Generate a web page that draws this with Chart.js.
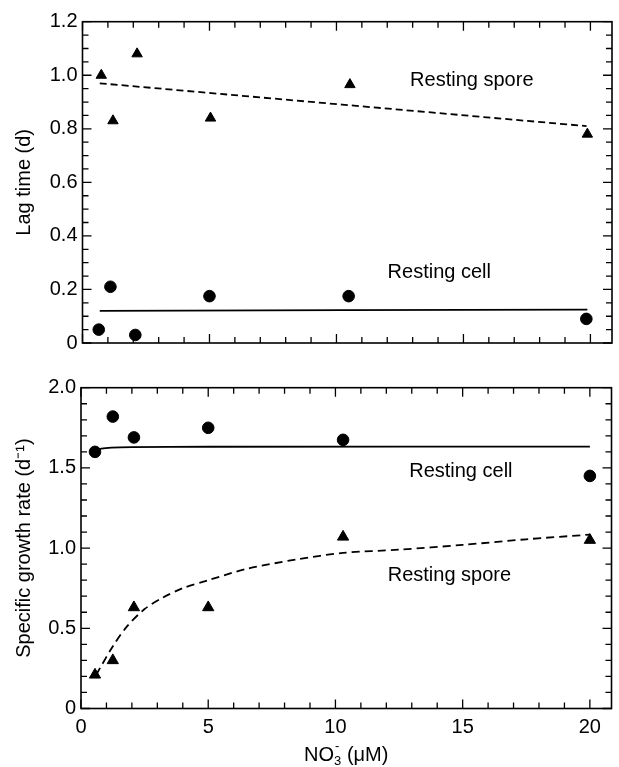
<!DOCTYPE html>
<html>
<head>
<meta charset="utf-8">
<script src="https://cdn.jsdelivr.net/npm/chart.js@4.4.1/dist/chart.umd.min.js"></script>
<style>
    html, body { margin: 0; padding: 0; background: #fff; }
    #wrap { position: relative; width: 619px; height: 767px; }
    canvas { position: absolute; left: 0; }
    #lag { top: 0; }
    #growth { top: 360px; }
</style>
</head>
<body>
<div id="wrap">
    <canvas id="lag" width="619" height="360"></canvas>
    <canvas id="growth" width="619" height="407"></canvas>
</div>
<script>
// tick labels
const xTicks = [0, 5, 10, 15, 20];
const lagTicks = [0, 0.2, 0.4, 0.6, 0.8, 1.0, 1.2];
const growthTicks = [0, 0.5, 1.0, 1.5, 2.0];

// top panel - lag time (d) vs NO3- (uM)
const lagSporeX = [0.74, 1.2, 2.15, 5.04, 10.53, 19.88];
const lagSporeY = [1.0, 0.83, 1.08, 0.84, 0.965, 0.78];
const lagCellX = [0.64, 1.1, 2.08, 5.0, 10.48, 19.84];
const lagCellY = [0.05, 0.21, 0.03, 0.175, 0.175, 0.09];
const lagSporeFitX = [0.68, 19.85];
const lagSporeFitY = [0.97, 0.81];
const lagCellFitX = [0.68, 19.88];
const lagCellFitY = [0.12, 0.125];

// bottom panel - specific growth rate (d-1) vs NO3- (uM)
const growthX = [0.55, 1.25, 2.08, 5.0, 10.3, 20.0];
const growthCellY = [1.60, 1.82, 1.69, 1.75, 1.675, 1.45];
const growthSporeY = [0.21, 0.30, 0.63, 0.63, 1.07, 1.05];
const growthCellFitX = [0.55, 0.8, 1.2, 2.0, 5.0, 20.0];
const growthCellFitY = [1.605, 1.62, 1.627, 1.63, 1.632, 1.633];
const growthSporeFitX = [0.6, 0.74, 1.26, 1.8, 2.5, 3.2, 4.0, 5.0, 6.5, 8.5, 10.3, 12.5, 15.0, 17.5, 20.0];
const growthSporeFitY = [0.21, 0.25, 0.39, 0.51, 0.62, 0.69, 0.75, 0.80, 0.87, 0.93, 0.97, 0.99, 1.02, 1.055, 1.084];

// text inside the panels (data units)
const lagNotes = ['Resting spore', 'Resting cell'];
const lagNoteX = [15.33, 14.05];
const lagNoteY = [0.98, 0.265];
const growthNotes = ['Resting cell', 'Resting spore'];
const growthNoteX = [14.93, 14.48];
const growthNoteY = [1.476, 0.832];

const X_MAX = 20.85;
const FONT = '"Liberation Sans", Arial, Helvetica, sans-serif';

function pts(xs, ys) {
    return xs.map((x, i) => ({x: x, y: ys[i]}));
}

function marks(xs, ys, style, radius) {
    return {
        data: pts(xs, ys),
        showLine: false,
        pointStyle: style,
        pointRadius: radius,
        backgroundColor: '#000',
        borderColor: '#000',
        borderWidth: 1
    };
}

function fit(xs, ys, dash) {
    return {
        data: pts(xs, ys),
        showLine: true,
        pointRadius: 0,
        borderColor: '#000',
        borderWidth: 1.8,
        borderDash: dash,
        tension: 0.3
    };
}

// box round the plot with inward ticks on all four sides
const frame = {
    id: 'frame',
    afterDatasetsDraw(chart) {
        const {ctx, chartArea: a, scales: {x, y}} = chart;
        const minorY = chart.options.plugins.frame.minorY;
        ctx.save();
        ctx.strokeStyle = '#000';
        ctx.lineWidth = 1.6;
        ctx.strokeRect(a.left, a.top, a.right - a.left, a.bottom - a.top);
        ctx.lineWidth = 1.3;
        ctx.beginPath();
        for (let v = 0; v <= x.max + 1e-6; v += 1) {
            const len = v % 5 === 0 ? 9 : 6;
            const px = x.getPixelForValue(v);
            ctx.moveTo(px, a.bottom); ctx.lineTo(px, a.bottom - len);
            ctx.moveTo(px, a.top); ctx.lineTo(px, a.top + len);
        }
        const steps = Math.round(y.max / minorY);
        const per = Math.round(y.ticks[1].value / minorY);
        for (let i = 0; i <= steps; i++) {
            const len = i % per === 0 ? 9 : 6;
            const py = y.getPixelForValue(i * minorY);
            ctx.moveTo(a.left, py); ctx.lineTo(a.left + len, py);
            ctx.moveTo(a.right, py); ctx.lineTo(a.right - len, py);
        }
        ctx.stroke();
        ctx.restore();
    }
};

// labels like "Resting spore" written inside the panel
const notes = {
    id: 'notes',
    afterDatasetsDraw(chart) {
        const o = chart.options.plugins.notes;
        const {ctx, scales: {x, y}} = chart;
        ctx.save();
        ctx.fillStyle = '#000';
        ctx.font = '20px ' + FONT;
        ctx.textAlign = 'center';
        ctx.textBaseline = 'middle';
        for (let i = 0; i < o.text.length; i++) {
            ctx.fillText(o.text[i], x.getPixelForValue(o.x[i]), y.getPixelForValue(o.y[i]));
        }
        ctx.restore();
    }
};

// x title with the stacked sub/superscript of NO3-
const nitrateTitle = {
    id: 'nitrateTitle',
    afterDraw(chart) {
        if (!chart.options.plugins.nitrateTitle.show) return;
        const {ctx, chartArea: a} = chart;
        const base = 401;
        ctx.save();
        ctx.fillStyle = '#000';
        ctx.textBaseline = 'alphabetic';
        ctx.font = '20px ' + FONT;
        const wNO = ctx.measureText('NO').width;
        const wRest = ctx.measureText(' (μM)').width;
        ctx.font = '13px ' + FONT;
        const wSub = ctx.measureText('3').width;
        let x0 = (a.left + a.right) / 2 - (wNO + wSub + wRest) / 2;
        ctx.font = '20px ' + FONT;
        ctx.fillText('NO', x0, base);
        x0 += wNO;
        ctx.font = '13px ' + FONT;
        ctx.fillText('3', x0, base + 4);
        ctx.fillText('-', x0 + 1, base - 11);
        x0 += wSub;
        ctx.font = '20px ' + FONT;
        ctx.fillText(' (μM)', x0, base);
        ctx.restore();
    }
};

function makeChart(canvasId, cfg) {
    return new Chart(document.getElementById(canvasId), {
        type: 'scatter',
        data: {datasets: cfg.datasets},
        options: {
            responsive: false,
            animation: false,
            events: [],
            layout: {padding: {top: cfg.top, right: 2, left: 0, bottom: 0}},
            plugins: {
                legend: {display: false},
                tooltip: {enabled: false},
                frame: {minorY: cfg.minorY},
                notes: cfg.notes,
                nitrateTitle: {show: cfg.xLabels}
            },
            scales: {
                x: {
                    type: 'linear',
                    min: 0,
                    max: X_MAX,
                    afterBuildTicks: s => { s.ticks = xTicks.map(v => ({value: v})); },
                    afterFit: s => { s.height = cfg.xHeight; },
                    grid: {display: false, drawTicks: false},
                    border: {display: false},
                    ticks: {
                        display: cfg.xLabels,
                        padding: 7,
                        color: '#000',
                        font: {family: FONT, size: 20},
                        maxRotation: 0,
                        callback: v => String(v)
                    }
                },
                y: {
                    type: 'linear',
                    min: 0,
                    max: cfg.yTicks[cfg.yTicks.length - 1],
                    afterBuildTicks: s => { s.ticks = cfg.yTicks.map(v => ({value: v})); },
                    afterFit: s => { s.width = cfg.yWidth; },
                    grid: {display: false, drawTicks: false},
                    border: {display: false},
                    ticks: {
                        padding: 5,
                        color: '#000',
                        font: {family: FONT, size: 20},
                        callback: v => v === 0 ? '0' : v.toFixed(1)
                    },
                    title: {
                        display: true,
                        text: cfg.yTitle,
                        color: '#000',
                        font: {family: FONT, size: 20},
                        padding: {top: 12, bottom: 0}
                    }
                }
            }
        },
        plugins: [frame, notes, nitrateTitle]
    });
}

makeChart('lag', {
    top: 21.7,
    xHeight: 16.5,
    yWidth: 82.5,
    xLabels: false,
    yTicks: lagTicks,
    minorY: 0.05,
    yTitle: 'Lag time (d)',
    notes: {text: lagNotes, x: lagNoteX, y: lagNoteY},
    datasets: [
        fit(lagSporeFitX, lagSporeFitY, [7, 4]),
        fit(lagCellFitX, lagCellFitY, []),
        marks(lagSporeX, lagSporeY, 'triangle', 6),
        marks(lagCellX, lagCellY, 'circle', 5.8)
    ]
});

makeChart('growth', {
    top: 27.7,
    xHeight: 58.5,
    yWidth: 81,
    xLabels: true,
    yTicks: growthTicks,
    minorY: 0.1,
    yTitle: 'Specific growth rate (d⁻¹)',
    notes: {text: growthNotes, x: growthNoteX, y: growthNoteY},
    datasets: [
        fit(growthSporeFitX, growthSporeFitY, [8, 5]),
        fit(growthCellFitX, growthCellFitY, []),
        marks(growthX, growthSporeY, 'triangle', 6.5),
        marks(growthX, growthCellY, 'circle', 5.8)
    ]
});
</script>
</body>
</html>
